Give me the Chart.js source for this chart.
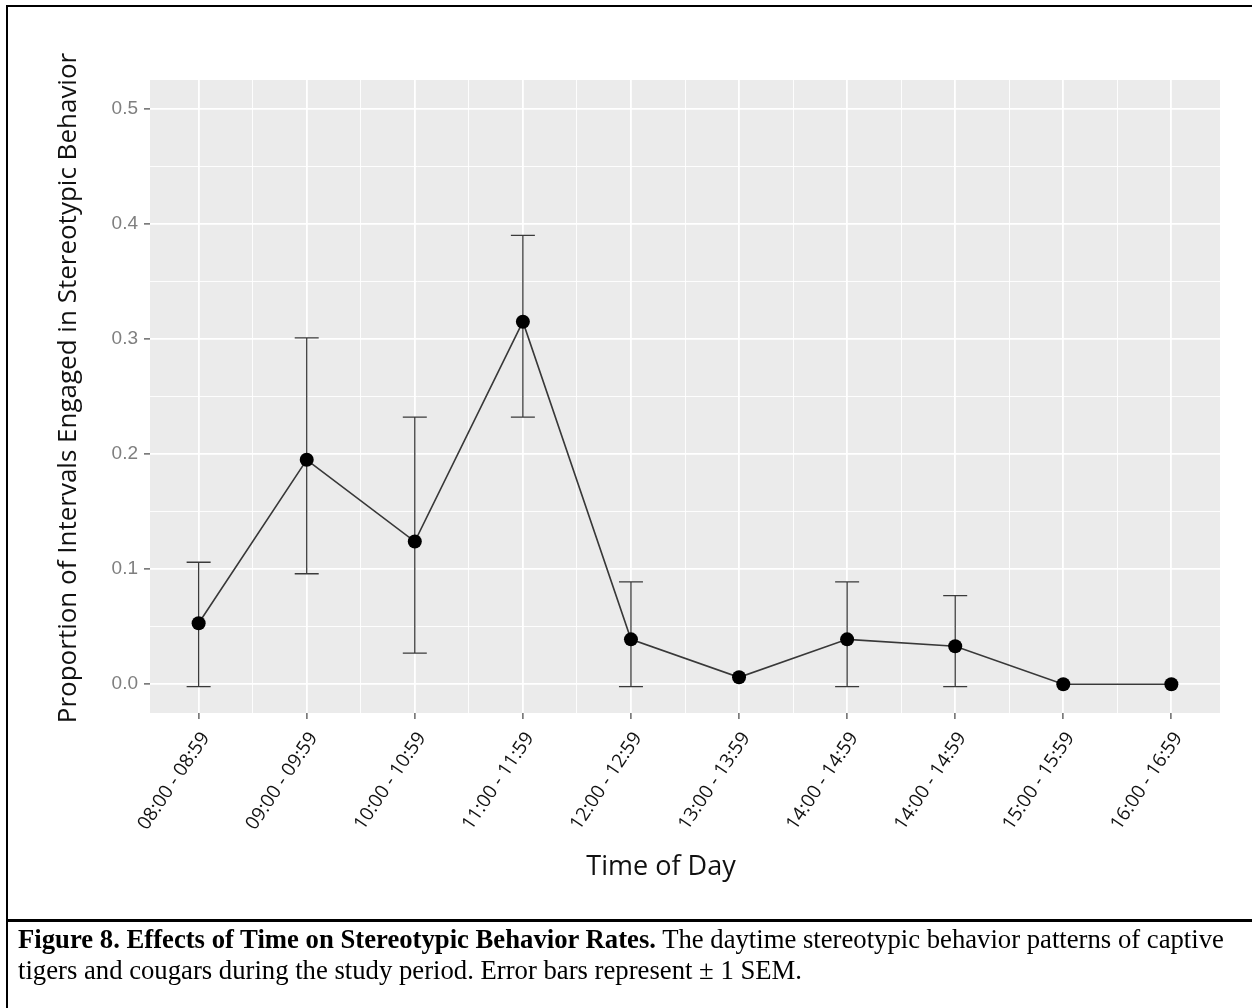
<!DOCTYPE html>
<html>
<head>
<meta charset="utf-8">
<script src="https://cdn.jsdelivr.net/npm/chart.js@4.4.1/dist/chart.umd.min.js"></script>
<style>
  html, body { margin: 0; padding: 0; background: #fff; overflow: hidden; }
  #wrap { position: relative; width: 1252px; height: 1008px; }
  #cv { position: absolute; left: 0; top: 0; }
  #frame { position: absolute; left: 6px; top: 5px; width: 1300px; height: 1100px; border: 2px solid #000; box-sizing: border-box; }
  #divider { position: absolute; left: 6px; top: 919px; width: 1300px; height: 3px; background: #000; }
  #caption { position: absolute; left: 18px; top: 924px; width: 1228px; white-space: nowrap; font-family: "Liberation Serif", "Times New Roman", serif; color: #000; }
</style>
</head>
<body>
<div id="wrap">
  <canvas id="cv" width="1252" height="900"></canvas>
  <div id="frame"></div>
  <div id="divider"></div>
  <div id="caption"></div>
</div>
<script>
// hourly blocks (14:00 appears twice in the source table)
var timeLabels = ['08:00 - 08:59', '09:00 - 09:59', '10:00 - 10:59', '11:00 - 11:59', '12:00 - 12:59',
                  '13:00 - 13:59', '14:00 - 14:59', '14:00 - 14:59', '15:00 - 15:59', '16:00 - 16:59'];
// mean proportion of intervals with stereotypic behavior
var meanRate = [0.053, 0.195, 0.124, 0.315, 0.039, 0.006, 0.039, 0.033, 0.000, 0.000];
// +/- 1 SEM limits (null = no bar drawn)
var errHigh  = [0.106, 0.301, 0.232, 0.390, 0.089, null, 0.089, 0.077, null, null];
var errLow   = [-0.002, 0.096, 0.027, 0.232, -0.002, null, -0.002, -0.002, null, null];
var yMajor = [0, 0.1, 0.2, 0.3, 0.4, 0.5];
var yMinor = [0.05, 0.15, 0.25, 0.35, 0.45];

var xTitle = 'Time of Day';
var yTitle = 'Proportion of Intervals Engaged in Stereotypic Behavior';
var capBold = 'Figure 8. Effects of Time on Stereotypic Behavior Rates.';
var capLine1 = 'The daytime stereotypic behavior patterns of captive';
var capLine2 = 'tigers and cougars during the study period. Error bars represent \u00b1 1 SEM.';

// caption: size the text so the first line runs to the right edge
(function () {
    var m = document.createElement('canvas').getContext('2d');
    m.font = 'bold 100px "Liberation Serif"';
    var wb = m.measureText(capBold + ' ').width;
    m.font = '100px "Liberation Serif"';
    var wn = m.measureText(capLine1).width;
    var size = 100 * 1208 / (wb + wn);
    var cap = document.getElementById('caption');
    cap.style.fontSize = size.toFixed(2) + 'px';
    cap.style.lineHeight = Math.round(size * 1.15) + 'px';
    cap.innerHTML = '<b>' + capBold + '</b> ' + capLine1 + '<br>' + capLine2.replace('\u00b1', '&plusmn;');
})();

var isMajorY = function (v) { return yMajor.some(function (m) { return Math.abs(m - v) < 1e-6; }); };
var isMajorX = function (v) { return Math.abs(v - Math.round(v)) < 1e-6; };

// grey panel behind the grid
var panelBg = {
    id: 'panelBg',
    beforeDraw: function (chart) {
        var a = chart.chartArea, c = chart.ctx;
        c.save();
        c.fillStyle = '#ebebeb';
        c.fillRect(a.left, a.top, a.right - a.left, a.bottom - a.top);
        c.restore();
    }
};

// SEM whiskers with caps, drawn under the line and points
var errorBars = {
    id: 'errorBars',
    beforeDatasetsDraw: function (chart) {
        var xs = chart.scales.x, ys = chart.scales.y, c = chart.ctx;
        c.save();
        c.strokeStyle = '#3a3a3a';
        c.lineWidth = 1.3;
        for (var i = 0; i < meanRate.length; i++) {
            if (errHigh[i] === null) continue;
            var px = xs.getPixelForValue(i);
            var top = ys.getPixelForValue(errHigh[i]);
            var bot = ys.getPixelForValue(errLow[i]);
            c.beginPath();
            c.moveTo(px, top); c.lineTo(px, bot);
            c.moveTo(px - 12, top); c.lineTo(px + 12, top);
            c.moveTo(px - 12, bot); c.lineTo(px + 12, bot);
            c.stroke();
        }
        c.restore();
    }
};

// axis titles, placed relative to the plot panel
var axisTitles = {
    id: 'axisTitles',
    afterDraw: function (chart) {
        var a = chart.chartArea, c = chart.ctx;
        c.save();
        c.fillStyle = '#111';
        c.textAlign = 'center';
        c.textBaseline = 'middle';
        c.font = '27px "Open Sans"';
        c.fillText(xTitle, a.left + 511, a.bottom + 154);
        c.font = '26px "Open Sans"';
        c.translate(a.left - 81, a.top + 308);
        c.rotate(-Math.PI / 2);
        c.fillText(yTitle, 0, 0);
        c.restore();
    }
};

var points = meanRate.map(function (v, i) { return { x: i, y: v }; });

new Chart(document.getElementById('cv'), {
    type: 'line',
    data: {
        datasets: [{
            data: points,
            borderColor: '#383838',
            borderWidth: 1.6,
            pointRadius: 7,
            pointBackgroundColor: '#000',
            pointBorderWidth: 0,
            tension: 0
        }]
    },
    options: {
        responsive: false,
        animation: false,
        layout: { padding: { top: 80, right: 32, left: 0, bottom: 0 } },
        plugins: { legend: { display: false }, tooltip: { enabled: false } },
        scales: {
            x: {
                type: 'linear',
                min: -0.45,
                max: 9.45,
                afterBuildTicks: function (s) {
                    var t = [];
                    for (var i = 0; i < timeLabels.length; i++) {
                        t.push({ value: i });
                        if (i < timeLabels.length - 1) t.push({ value: i + 0.5 });
                    }
                    s.ticks = t;
                },
                afterFit: function (s) { s.height = 187; },
                border: { display: false },
                grid: {
                    color: '#ffffff',
                    lineWidth: function (ctx) { return isMajorX(ctx.tick.value) ? 1.8 : 0.9; },
                    drawTicks: true,
                    tickLength: 6,
                    tickWidth: 1.2,
                    tickColor: function (ctx) { return isMajorX(ctx.tick.value) ? '#444' : 'rgba(0,0,0,0)'; }
                },
                ticks: {
                    autoSkip: false,
                    minRotation: 56,
                    maxRotation: 56,
                    padding: 9,
                    labelOffset: 7,
                    color: '#111',
                    font: { family: 'Open Sans', size: 19 },
                    callback: function (v) { return isMajorX(v) ? timeLabels[Math.round(v)] : ''; }
                }
            },
            y: {
                type: 'linear',
                min: -0.025,
                max: 0.525,
                afterBuildTicks: function (s) {
                    s.ticks = yMajor.concat(yMinor).sort(function (a, b) { return a - b; })
                        .map(function (v) { return { value: v }; });
                },
                afterFit: function (s) { s.width = 150; },
                border: { display: false },
                grid: {
                    color: '#ffffff',
                    lineWidth: function (ctx) { return isMajorY(ctx.tick.value) ? 1.8 : 0.9; },
                    drawTicks: true,
                    tickLength: 6,
                    tickWidth: 1.2,
                    tickColor: function (ctx) { return isMajorY(ctx.tick.value) ? '#444' : 'rgba(0,0,0,0)'; }
                },
                ticks: {
                    autoSkip: false,
                    padding: 6,
                    color: '#7f7f7f',
                    font: { family: 'Liberation Sans', size: 19 },
                    callback: function (v) { return isMajorY(v) ? v.toFixed(1) : ''; }
                }
            }
        }
    },
    plugins: [panelBg, errorBars, axisTitles]
});
</script>
</body>
</html>
